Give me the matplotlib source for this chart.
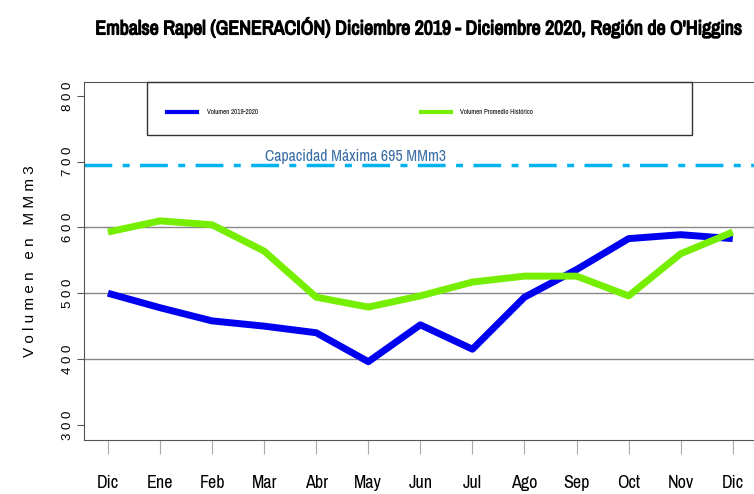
import matplotlib.pyplot as plt
from matplotlib import font_manager
from matplotlib import patheffects
from matplotlib.lines import Line2D
from matplotlib.patches import Rectangle

meses = ['Dic', 'Ene', 'Feb', 'Mar', 'Abr', 'May', 'Jun', 'Jul', 'Ago', 'Sep', 'Oct', 'Nov', 'Dic']
vol_2019_2020 = [500, 478, 458, 450, 440, 396, 452, 415, 494, 536, 583, 589, 583]
vol_promedio = [593, 610, 604, 564, 494, 479, 496, 517, 526, 526, 496, 560, 593]
capacidad = 695
yticks = [300, 400, 500, 600, 700, 800]

# look for a condensed face, else plain Liberation Sans
nombres = sorted({f.name for f in font_manager.fontManager.ttflist})
cond = [n for n in nombres if 'Narrow' in n or 'Condensed' in n]
if 'Liberation Sans Narrow' in cond:
    cond.insert(0, 'Liberation Sans Narrow')
narrow = [cond[0], 'DejaVu Sans'] if cond else ['Liberation Sans', 'DejaVu Sans']

fig = plt.figure(figsize=(7.54, 4.94), dpi=100)
ax = fig.add_axes([84 / 754, 54 / 494, 680 / 754, 358 / 494])

x = list(range(len(meses)))
for yv in [400, 500, 600]:
    ax.axhline(yv, color='#888888', lw=1, zorder=1)
ax.axhline(capacidad, color='#00B2EE', lw=2.5, ls=(0, (8, 3, 2, 3)), zorder=2)
ax.text(4.75, capacidad + 2, 'Capacidad Máxima 695 MMm3', color='#3A6EA5',
        fontsize=11.4, family=narrow, ha='center', va='bottom', zorder=3)

ax.plot(x, vol_2019_2020, color='#0000F0', lw=5, solid_capstyle='butt', zorder=4)
ax.plot(x, vol_promedio, color='#76EE00', lw=5, solid_capstyle='butt', zorder=5)

ax.set_xlim(-0.46, 12.6)
ax.set_ylim(277, 821)
ax.set_xticks(x)
ax.set_xticklabels(meses, family=narrow, fontsize=13)
ax.tick_params(axis='x', length=10, color='#aaaaaa', pad=15)
ax.set_yticks(yticks)
ax.set_yticklabels([' '.join(str(v)) for v in yticks], rotation=90, va='center',
                   fontsize=9.5, family=['Liberation Sans'])
ax.tick_params(axis='y', length=5, color='#555555', pad=2)
for s in ax.spines.values():
    s.set_color('#555555')
ax.spines['right'].set_visible(False)
ax.set_ylabel('V o l u m e n   e n   M M m 3', fontsize=11, labelpad=18,
              family=['Liberation Sans'])

# legend box
ax.add_patch(Rectangle((63 / 680, 1 - 53 / 358), 545 / 680, 53 / 358,
                       transform=ax.transAxes, fill=False, edgecolor='#333333',
                       lw=1, zorder=6, clip_on=False))
handles = [Line2D([], [], color='#0000F0', lw=3),
           Line2D([], [], color='#76EE00', lw=3)]
leg = ax.legend(handles, ['Volumen 2019-2020', 'Volumen Promedio Histórico'],
                loc='center left', bbox_to_anchor=(83 / 680, 1 - 30 / 358),
                ncol=2, frameon=False, prop={'family': narrow, 'size': 5},
                handlelength=4.3, handletextpad=1.4, columnspacing=23.5,
                borderpad=0, borderaxespad=0)

titulo = fig.suptitle("Embalse Rapel (GENERACIÓN) Diciembre 2019 - Diciembre 2020, Región de O'Higgins",
                      x=0.556, y=0.965, fontsize=14.3 if cond else 11.5,
                      fontweight='bold', family=narrow)
titulo.set_path_effects([patheffects.withStroke(linewidth=0.9, foreground='black')])

fig.savefig('out.png', dpi=100)
